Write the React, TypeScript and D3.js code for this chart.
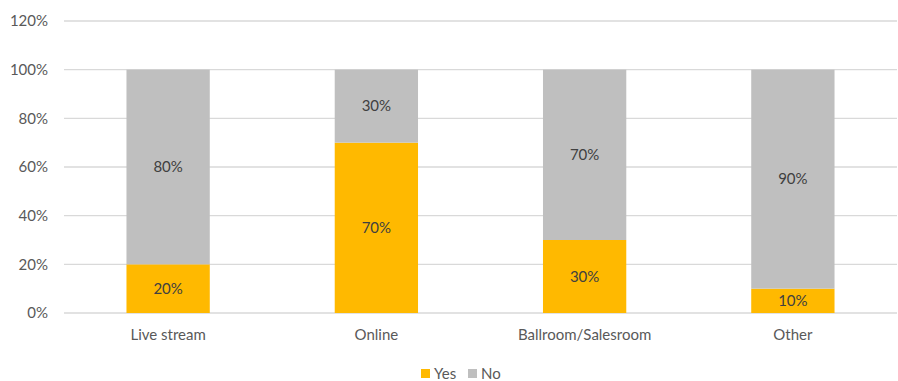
import React from "react";
import * as d3 from "d3";

const categories = ["Live stream", "Online", "Ballroom/Salesroom", "Other"];
const yesValues = [0.2, 0.7, 0.3, 0.1];
const noValues = [0.8, 0.3, 0.7, 0.9];
const yTicks = [0, 0.2, 0.4, 0.6, 0.8, 1.0, 1.2];
const seriesNames = ["Yes", "No"];
const seriesColors = ["#FFB900", "#BFBFBF"];

const W = 898;
const H = 381;
const left = 64;
const right = 897;
const top = 21;
const bottom = 313;
const font = "Lato, 'Open Sans', sans-serif";
const textColor = "#595959";

export default function App() {
  const x = d3.scaleBand<string>().domain(categories).range([left, right]).paddingInner(0.6).paddingOuter(0.3);
  const y = d3.scaleLinear().domain([0, 1.2]).range([bottom, top]);
  const fmt = d3.format(".0%");
  const stack = d3.stack<number>().keys(["0", "1"]).value((i, k) => (k === "0" ? yesValues[i] : noValues[i]));
  const stacked = stack(categories.map((_, i) => i));

  return (
    <svg width={W} height={H} style={{ position: "absolute", left: 0, top: 0, background: "#fff" }}>
      {yTicks.map((t) => (
        <g key={t}>
          <line x1={left} x2={right} y1={y(t)} y2={y(t)} stroke="#D9D9D9" strokeWidth={1.3} />
          <text x={48} y={y(t)} dy="0.35em" textAnchor="end" fontFamily={font} fontSize={15} fill={textColor}>
            {fmt(t)}
          </text>
        </g>
      ))}
      {stacked.map((layer, si) =>
        layer.map((d, i) => {
          const x0 = x(categories[i])!;
          const y0 = y(d[1]);
          const h = y(d[0]) - y(d[1]);
          const v = d[1] - d[0];
          return (
            <g key={`${si}-${i}`}>
              <rect x={x0} y={y0} width={x.bandwidth()} height={h} fill={seriesColors[si]} />
              <text
                x={x0 + x.bandwidth() / 2}
                y={y0 + h / 2}
                dy="0.35em"
                textAnchor="middle"
                fontFamily={font}
                fontSize={15}
                fill="#404040"
              >
                {fmt(v)}
              </text>
            </g>
          );
        })
      )}
      {categories.map((c) => (
        <text key={c} x={x(c)! + x.bandwidth() / 2} y={335} dy="0.35em" textAnchor="middle" fontFamily={font} fontSize={15} fill={textColor}>
          {c}
        </text>
      ))}
      {seriesNames.map((s, i) => {
        const lx = i === 0 ? 421 : 468;
        return (
          <g key={s}>
            <rect x={lx} y={369} width={9} height={9} fill={seriesColors[i]} />
            <text x={lx + 13} y={373.5} dy="0.35em" fontFamily={font} fontSize={15} fill={textColor}>
              {s}
            </text>
          </g>
        );
      })}
    </svg>
  );
}
